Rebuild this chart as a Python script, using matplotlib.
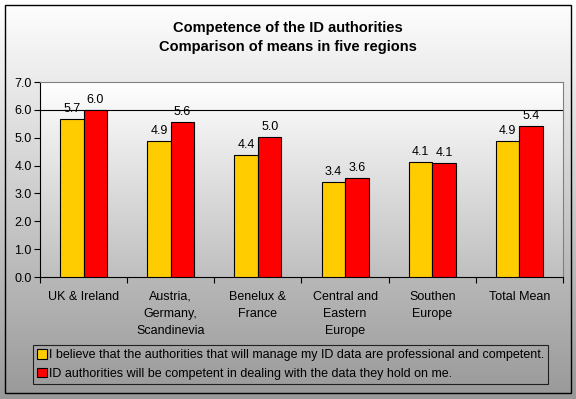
import matplotlib
matplotlib.use("Agg")
import matplotlib.pyplot as plt
import numpy as np
from matplotlib.patches import Rectangle

plt.rcParams["font.family"] = ["Liberation Sans", "DejaVu Sans"]

categories = ["UK & Ireland", "Austria,\nGermany,\nScandinevia", "Benelux &\nFrance",
              "Central and\nEastern\nEurope", "Southen\nEurope", "Total Mean"]
professional = [5.66, 4.88, 4.38, 3.41, 4.13, 4.88]
competent = [5.98, 5.56, 5.02, 3.56, 4.09, 5.42]
series_names = ["I believe that the authorities that will manage my ID data are professional and competent.",
                "ID authorities will be competent in dealing with the data they hold on me."]
yticks = [0, 1, 2, 3, 4, 5, 6, 7]

YELLOW = "#FFCC00"
RED = "#FF0000"

fig = plt.figure(figsize=(5.76, 3.99), dpi=100)

# background gradient, white at top to grey at bottom
bg = fig.add_axes([0, 0, 1, 1], zorder=-2)
grad = np.linspace(1.0, 0.60, 256).reshape(-1, 1)
bg.imshow(np.dstack([grad, grad, grad]), aspect="auto", extent=[0, 1, 0, 1])
bg.set_xlim(0, 1)
bg.set_ylim(0, 1)
bg.axis("off")
bg.add_patch(Rectangle((5 / 576, 6 / 399), 566 / 576, 388 / 399, fill=False,
                       ec="black", lw=1.0, transform=bg.transAxes))

ax = fig.add_axes([40 / 576, 1 - 277 / 399, 523 / 576, 195 / 399])
ax.set_facecolor("none")
pgrad = np.linspace(1.0, 0.75, 256).reshape(-1, 1)
ax.imshow(np.dstack([pgrad, pgrad, pgrad]), aspect="auto",
          extent=[-0.5, len(categories) - 0.5, 0, 7], zorder=0)

x = np.arange(len(categories))
w = 0.27
b1 = ax.bar(x - w / 2, professional, w, color=YELLOW, edgecolor="black", lw=0.8, zorder=3)
b2 = ax.bar(x + w / 2, competent, w, color=RED, edgecolor="black", lw=0.8, zorder=3)
for bars, vals in ((b1, professional), (b2, competent)):
    for r, v in zip(bars, vals):
        ax.text(r.get_x() + r.get_width() / 2, v + 0.15, f"{v:.1f}", ha="center",
                va="bottom", fontsize=9, zorder=4)

ax.axhline(6, color="black", lw=0.8, zorder=1)
ax.set_xlim(-0.5, len(categories) - 0.5)
ax.set_ylim(0, 7)
ax.set_yticks(yticks)
ax.set_yticklabels([f"{t:.1f}" for t in yticks], fontsize=9)
ax.set_xticks(x)
ax.set_xticklabels(categories, fontsize=9, va="top", linespacing=1.55)
ax.tick_params(axis="x", length=0, pad=10)
ax.tick_params(axis="y", length=4, width=0.8, pad=2)
ax.set_xticks(np.arange(len(categories) + 1) - 0.5, minor=True)
ax.tick_params(axis="x", which="minor", length=4, width=0.8, direction="out")
for s in ("top", "right"):
    ax.spines[s].set_color("#808080")
for s in ("left", "bottom"):
    ax.spines[s].set_color("black")

fig.text(288 / 576, 1 - 28 / 399, "Competence of the ID authorities", ha="center",
         va="center", fontsize=10.5, fontweight="bold")
fig.text(288 / 576, 1 - 47 / 399, "Comparison of means in five regions", ha="center",
         va="center", fontsize=10.5, fontweight="bold")

leg = fig.legend([b1, b2], series_names, loc="lower left",
                 bbox_to_anchor=(33 / 576, 1 - 384 / 399), fontsize=9,
                 frameon=True, fancybox=False, edgecolor="black", facecolor="none",
                 handlelength=0.75, handleheight=0.75, handletextpad=0.15,
                 borderpad=0.35, labelspacing=0.5, borderaxespad=0)
leg.get_frame().set_linewidth(0.8)

fig.savefig("out.png", dpi=100)
